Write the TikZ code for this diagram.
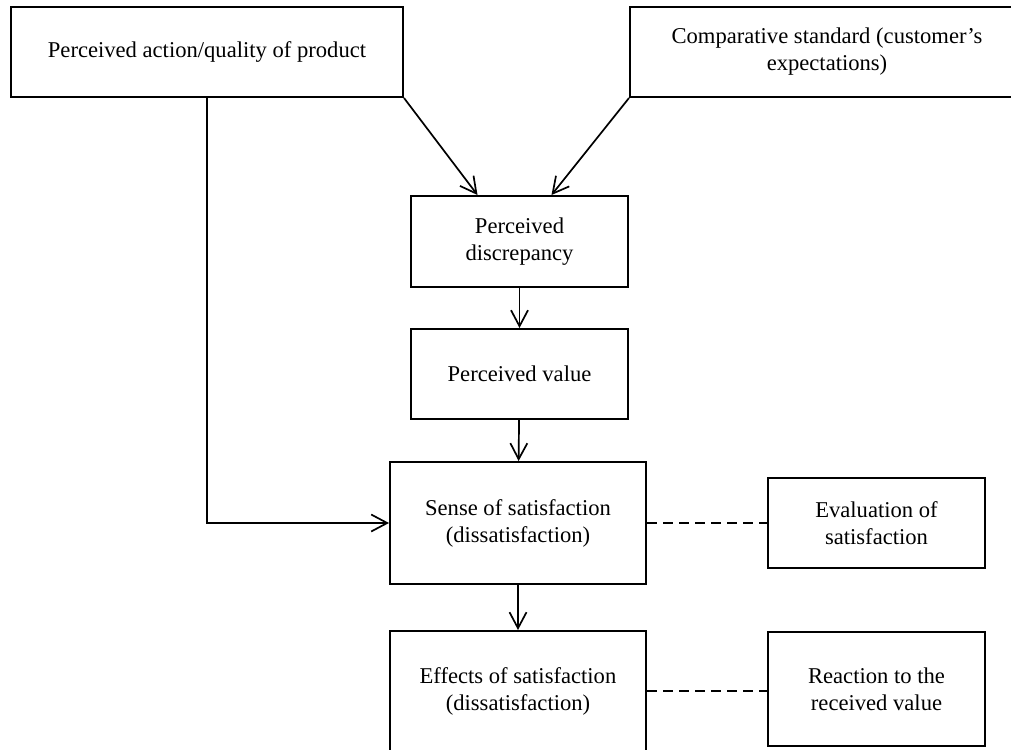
\documentclass[tikz,border=0pt]{standalone}
\usepackage{fontspec}
\setmainfont{Liberation Serif}
\usetikzlibrary{arrows.meta,calc}
\begin{document}
\begin{tikzpicture}[x=0.5pt,y=-0.5pt,font=\fontsize{11.3}{13.5}\selectfont,
 box/.style={rectangle,draw,line width=1pt,align=center,inner sep=0},
 link/.style={line width=0.85pt,-{Straight Barb[length=8pt,width=8.5pt]}},
 tie/.style={line width=0.85pt,dash pattern=on 5pt off 3pt}]
\useasboundingbox(0,0)rectangle(1011,749);
\node[box,minimum width=196pt,minimum height=45pt](perc)at(207,52){Perceived action/quality of product};
\node[box,minimum width=197pt,minimum height=45pt](comp)at(827,52){Comparative standard (customer’s\\expectations)};
\node[box,minimum width=108.5pt,minimum height=45.5pt](discr)at(519.5,241.5){Perceived\\discrepancy};
\node[box,minimum width=108.5pt,minimum height=45pt](value)at(519.5,374){Perceived value};
\node[box,minimum width=128pt,minimum height=61pt](sense)at(518,523){Sense of satisfaction\\(dissatisfaction)};
\node[box,minimum width=108.5pt,minimum height=45pt](eval)at(876.5,523){Evaluation of\\satisfaction};
\node[box,minimum width=128pt,minimum height=60pt](effects)at(518,691){Effects of satisfaction\\(dissatisfaction)};
\node[box,minimum width=108.5pt,minimum height=57pt](react)at(876.5,689){Reaction to the\\received value};
\draw[link](perc.south east)--($(discr.north)+(-42,0)$);
\draw[link](comp.south west)--($(discr.north)+(32,0)$);
\draw[link](discr)--(value);
\draw[link](value)--(sense);
\draw[link](perc.south)|-(sense.west);
\draw[link](sense)--(effects);
\draw[tie](sense.east)--(eval.west);
\draw[tie](effects.east)--(effects.east-|react.west);
\end{tikzpicture}
\end{document}
